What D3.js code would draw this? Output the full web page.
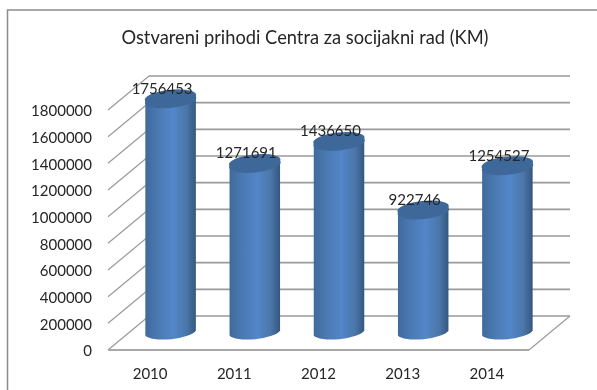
<!DOCTYPE html>
<html>
<head>
<meta charset="utf-8">
<script src="https://cdn.jsdelivr.net/npm/d3@7"></script>
<style>
  html, body { margin: 0; padding: 0; background: #fff; }
  svg { display: block; filter: blur(0.35px); }
  text { font-family: Lato, "Open Sans", sans-serif; fill: #262626; }
</style>
</head>
<body>
<svg id="chart" width="597" height="390"></svg>
<script>
const years = ["2010", "2011", "2012", "2013", "2014"];
const revenue = [1756453, 1271691, 1436650, 922746, 1254527];
const yTicks = [0, 200000, 400000, 600000, 800000, 1000000, 1200000, 1400000, 1600000, 1800000];
const chartTitle = "Ostvareni prihodi Centra za socijakni rad (KM)";

const svg = d3.select("#chart");

// front edge of the plot, the back wall is shifted by depth
const x = d3.scaleBand().domain(years).range([108, 529]);
const y = d3.scaleLinear().domain([0, 1800000]).range([350, 110]);
const depthX = 41, depthY = -34;
const gridColor = "#9a9a9a";

// frame, only top and left show in the picture
svg.append("path")
    .attr("d", "M597,10H7.5V390")
    .attr("fill", "none")
    .attr("stroke", "#8c8c8c")
    .attr("stroke-width", 1.5);

svg.append("text")
    .text(chartTitle)
    .attr("x", 305)
    .attr("y", 44)
    .attr("text-anchor", "middle")
    .style("font-size", "18.3px");

// cylinder shading
const defs = svg.append("defs");
const grad = defs.append("linearGradient").attr("id", "cylinder");
grad.selectAll("stop")
    .data([["0%", "#3f6a9c"], ["25%", "#4b79b2"], ["55%", "#5386c9"], ["82%", "#4a76a8"], ["100%", "#35577f"]])
    .enter().append("stop")
    .attr("offset", function(d) { return d[0]; })
    .attr("stop-color", function(d) { return d[1]; });

// back wall gridlines
svg.append("g")
    .selectAll("line")
    .data(yTicks)
    .enter().append("line")
    .attr("x1", x.range()[0] + depthX)
    .attr("x2", x.range()[1] + depthX)
    .attr("y1", function(d) { return y(d) + depthY; })
    .attr("y2", function(d) { return y(d) + depthY; })
    .attr("stroke", gridColor)
    .attr("stroke-width", 1.6);

// left wall diagonals
svg.append("g")
    .selectAll("line")
    .data(yTicks)
    .enter().append("line")
    .attr("x1", x.range()[0])
    .attr("x2", x.range()[0] + depthX)
    .attr("y1", function(d) { return y(d); })
    .attr("y2", function(d) { return y(d) + depthY; })
    .attr("stroke", gridColor)
    .attr("stroke-width", 1.2);

// floor front and right edge
svg.append("line")
    .attr("x1", x.range()[0]).attr("x2", x.range()[1])
    .attr("y1", y(0)).attr("y2", y(0))
    .attr("stroke", "#a8a8a8").attr("stroke-width", 2);
svg.append("line")
    .attr("x1", x.range()[1]).attr("x2", x.range()[1] + depthX)
    .attr("y1", y(0)).attr("y2", y(0) + depthY)
    .attr("stroke", gridColor).attr("stroke-width", 1.2);

// cylinders
const halfW = x.bandwidth() * 0.3;
const rx = halfW + 0.6, ry = 7.6, tiltY = 2.6, tilt = -6;

function cx(d, i) { return x(years[i]) + x.bandwidth() / 2 + depthX / 2; }
function baseY() { return y(0) + depthY / 2; }
function topY(d) { return y(d) + depthY / 2; }

function bodyPath(d, i) {
    const c = cx(d, i);
    return `M${c - halfW},${topY(d) + tiltY}` +
        `L${c - halfW},${baseY() + tiltY}` +
        `A${rx},${ry} ${tilt} 0 0 ${c + halfW},${baseY() - tiltY}` +
        `L${c + halfW},${topY(d) - tiltY}Z`;
}

function capPath(d, i) {
    const c = cx(d, i);
    return `M${c - halfW},${topY(d) + tiltY}` +
        `A${rx},${ry} ${tilt} 1 1 ${c + halfW},${topY(d) - tiltY}` +
        `A${rx},${ry} ${tilt} 1 1 ${c - halfW},${topY(d) + tiltY}Z`;
}

const bars = svg.append("g").selectAll("g").data(revenue).enter().append("g");
bars.append("path").attr("d", bodyPath).attr("fill", "url(#cylinder)");
bars.append("path").attr("d", capPath).attr("fill", "#3d6899");

// value labels
svg.append("g")
    .selectAll("text")
    .data(revenue)
    .enter().append("text")
    .text(function(d) { return d; })
    .attr("x", function(d, i) { return cx(d, i) - 8.5; })
    .attr("y", function(d) { return y(d) - 22; })
    .attr("text-anchor", "middle")
    .style("font-size", "15px");

// axes, labels only
const yAxis = svg.append("g")
    .attr("transform", "translate(95,1)")
    .call(d3.axisLeft(y).tickValues(yTicks).tickSize(0).tickFormat(d3.format("d")));
const xAxis = svg.append("g")
    .attr("transform", `translate(0,${y(0)})`)
    .call(d3.axisBottom(x).tickSize(0));
yAxis.select(".domain").remove();
xAxis.select(".domain").remove();
yAxis.selectAll("text").style("font-size", "15px");
xAxis.selectAll("text").attr("dy", "1.72em").style("font-size", "15px");
</script>
</body>
</html>
